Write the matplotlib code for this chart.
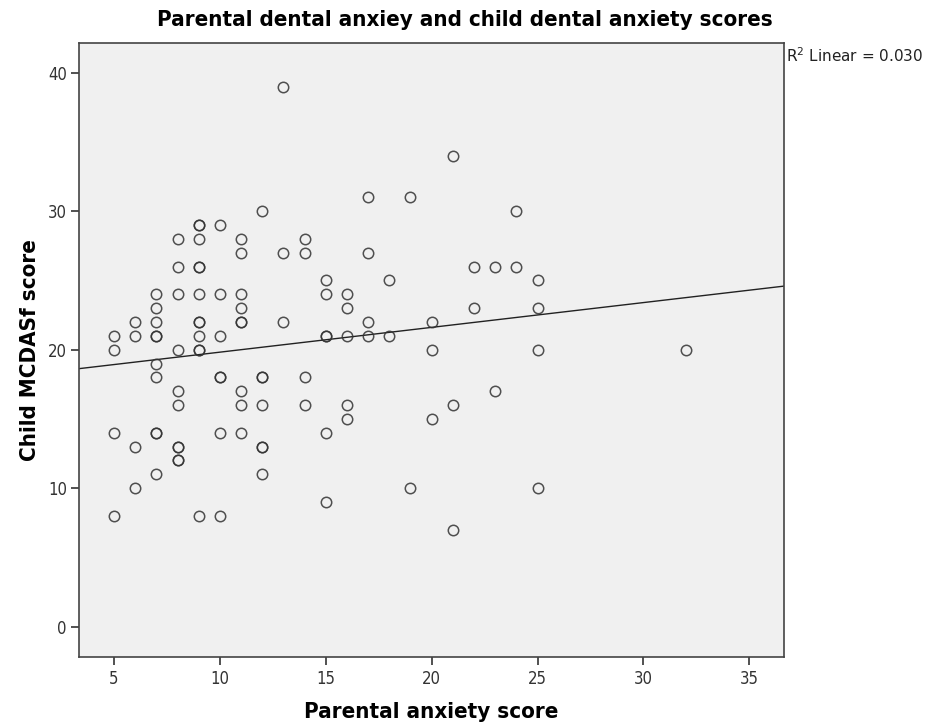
import numpy as np
import matplotlib
matplotlib.use("Agg")
import matplotlib.pyplot as plt

# Parental anxiety score (x) and child MCDASf score (y), one entry per child
parental_score = [
    5, 5, 5, 5,
    6, 6, 6, 6,
    7, 7, 7, 7, 7, 7, 7, 7, 7, 7,
    8, 8, 8, 8, 8, 8, 8, 8, 8, 8,
    9, 9, 9, 9, 9, 9, 9, 9, 9, 9, 9, 9,
    10, 10, 10, 10, 10, 10, 10,
    11, 11, 11, 11, 11, 11, 11, 11, 11,
    12, 12, 12, 12, 12, 12, 12,
    13, 13, 13,
    14, 14, 14, 14,
    15, 15, 15, 15, 15, 15,
    16, 16, 16, 16, 16,
    17, 17, 17, 17,
    18, 18,
    19, 19,
    20, 20, 20,
    21, 21, 21,
    22, 22,
    23, 23,
    24, 24,
    25, 25, 25, 25,
    32,
]
child_score = [
    21, 20, 14, 8,
    22, 21, 13, 10,
    24, 23, 22, 21, 21, 19, 18, 14, 14, 11,
    28, 26, 24, 20, 17, 16, 13, 13, 12, 12,
    29, 29, 28, 26, 26, 24, 22, 22, 21, 20, 20, 8,
    29, 24, 21, 18, 18, 14, 8,
    28, 27, 24, 23, 22, 22, 17, 16, 14,
    30, 18, 18, 16, 13, 13, 11,
    39, 27, 22,
    28, 27, 18, 16,
    25, 24, 21, 21, 14, 9,
    24, 23, 21, 16, 15,
    31, 27, 22, 21,
    25, 21,
    31, 10,
    22, 20, 15,
    34, 16, 7,
    26, 23,
    26, 17,
    30, 26,
    25, 23, 20, 10,
    20,
]

x_ticks = [5, 10, 15, 20, 25, 30, 35]
y_ticks = [0, 10, 20, 30, 40]

# R squared as printed on the chart
r2_linear = 0.030


def plot_scatter_with_fit():
    """Scatter of child vs parental anxiety with a linear fit line
    across the whole x range, SPSS style.
    """
    x = np.array(parental_score, dtype=float)
    y = np.array(child_score, dtype=float)

    slope, intercept = np.polyfit(x, y, 1)

    fig = plt.figure(figsize=(9.29, 7.27), dpi=100)
    ax = fig.add_axes([0.0854, 0.0959, 0.7585, 0.8454])
    ax.set_facecolor("#f0f0f0")

    xlim = (3.36, 36.64)
    ax.set_xlim(xlim)
    ax.set_ylim(-2.21, 42.17)

    xs = np.array(xlim)
    ax.plot(xs, intercept + slope * xs, color="#222222", linewidth=1.0, zorder=2)

    ax.plot(x, y, linestyle="", marker="o", markersize=7.5,
            markerfacecolor="none", markeredgecolor="#333333",
            markeredgewidth=1.1, alpha=0.85, zorder=3)

    for side in ax.spines.values():
        side.set_color("#444444")
        side.set_linewidth(1.2)

    ax.set_xticks(x_ticks)
    ax.set_yticks(y_ticks)
    ax.tick_params(direction="out", length=6, width=1.2, color="#333333",
                   labelcolor="#333333", labelsize=12, pad=3)
    for lab in ax.get_xticklabels() + ax.get_yticklabels():
        lab.set_stretch("condensed")

    # title is centred on the whole figure, not on the axes
    fig.text(0.5, 0.972, "Parental dental anxiey and child dental anxiety scores",
             fontsize=16, fontweight="bold", fontstretch="condensed",
             ha="center", va="center")
    ax.set_xlabel("Parental anxiety score", fontsize=16, fontweight="bold",
                  fontstretch="condensed", labelpad=10)
    ax.set_ylabel("Child MCDASf score", fontsize=16, fontweight="bold",
                  fontstretch="condensed", labelpad=6)

    fig.text(0.846, 0.924, "R$^2$ Linear = %.3f" % r2_linear,
             fontsize=11, color="#222222", ha="left", va="center")

    fig.savefig("out.png", dpi=100)


def main():
    plot_scatter_with_fit()


if __name__ == "__main__":
    main()
